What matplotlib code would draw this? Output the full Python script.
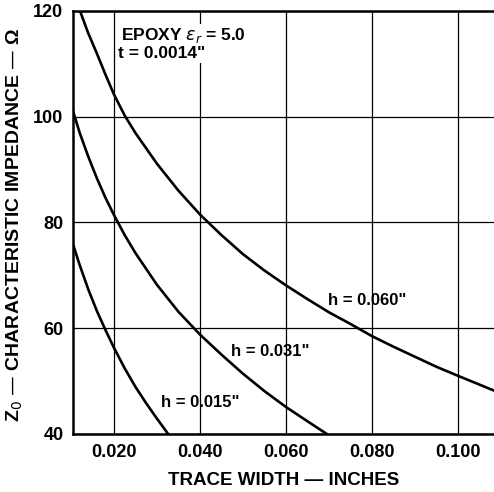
import numpy as np
import matplotlib
matplotlib.use("Agg")
import matplotlib.pyplot as plt

plt.rcParams["font.family"] = ["Liberation Sans", "DejaVu Sans"]

# curve readings (trace width in inches, Z0 in ohms)
h060_x = [0.0121, 0.014, 0.016, 0.018, 0.020, 0.0225, 0.025, 0.030, 0.035, 0.040, 0.045,
          0.050, 0.055, 0.060, 0.065, 0.070, 0.075, 0.080, 0.085, 0.090, 0.095, 0.100, 0.1084]
h060_y = [120.0, 115.8, 112.0, 108.0, 104.2, 100.2, 96.9, 91.1, 86.0, 81.5, 77.6,
          74.0, 70.9, 68.1, 65.5, 63.0, 60.8, 58.5, 56.5, 54.6, 52.7, 51.0, 48.2]

h031_x = [0.0105, 0.012, 0.014, 0.016, 0.018, 0.020, 0.0225, 0.025, 0.030,
          0.035, 0.040, 0.045, 0.050, 0.055, 0.060, 0.065, 0.0695]
h031_y = [101.0, 97.0, 92.5, 88.4, 84.7, 81.4, 77.6, 74.2, 68.2,
          63.1, 58.8, 55.0, 51.4, 48.1, 45.1, 42.4, 40.0]

h015_x = [0.0105, 0.012, 0.014, 0.016, 0.018, 0.020, 0.0225, 0.025, 0.0275, 0.030, 0.0326]
h015_y = [75.8, 72.0, 67.4, 63.3, 59.7, 56.3, 52.4, 48.9, 45.8, 42.9, 40.0]

curve_labels = ['h = 0.060"', 'h = 0.031"', 'h = 0.015"']
label_pos = [(0.0790, 65.3), (0.0563, 55.6), (0.0401, 45.9)]

x_ticks = [0.020, 0.040, 0.060, 0.080, 0.100]
y_ticks = [40, 60, 80, 100, 120]

fig = plt.figure(figsize=(4.94, 4.92), dpi=100)
ax = fig.add_axes([0.148, 0.118, 0.852, 0.860])

for x in x_ticks:
    ax.axvline(x, color="black", lw=0.9, zorder=1)
for y in y_ticks:
    ax.axhline(y, color="black", lw=0.9, zorder=1)

for xs, ys in [(h060_x, h060_y), (h031_x, h031_y), (h015_x, h015_y)]:
    ax.plot(xs, ys, color="black", lw=1.9, zorder=3, solid_joinstyle="round")

for txt, (tx, ty) in zip(curve_labels, label_pos):
    ax.text(tx, ty, txt, ha="center", va="center", fontsize=12, fontweight="bold", zorder=4)

ax.text(0.0216, 115.3, "EPOXY $\\epsilon_r$ = 5.0", ha="left", va="center",
        fontsize=12.5, fontweight="bold", zorder=4,
        bbox=dict(facecolor="white", edgecolor="none", pad=1.5))
ax.text(0.0210, 111.9, 't = 0.0014"', ha="left", va="center",
        fontsize=12.5, fontweight="bold", zorder=4,
        bbox=dict(facecolor="white", edgecolor="none", pad=1.5))

ax.set_xlim(0.0105, 0.1084)
ax.set_ylim(40, 120)
ax.set_xticks(x_ticks)
ax.set_xticklabels([f"{v:.3f}" for v in x_ticks])
ax.set_yticks(y_ticks)
ax.tick_params(length=0, labelsize=13, pad=7)
for lab in ax.get_xticklabels() + ax.get_yticklabels():
    lab.set_fontweight("bold")

for s in ["left", "bottom", "top"]:
    ax.spines[s].set_linewidth(1.8)
ax.spines["right"].set_visible(False)

ax.set_xlabel("TRACE WIDTH — INCHES", fontsize=13.5, fontweight="bold", labelpad=8)
ax.set_ylabel("Z$_0$ — CHARACTERISTIC IMPEDANCE — Ω", fontsize=14, fontweight="bold")
ax.yaxis.set_label_coords(-0.114, 0.494)

fig.savefig("out.png", dpi=100)
